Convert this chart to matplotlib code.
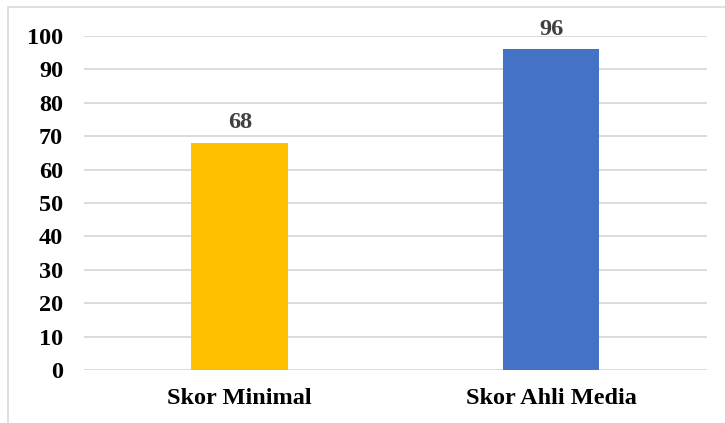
import matplotlib
matplotlib.use("Agg")
import matplotlib.pyplot as plt
from matplotlib.patches import Rectangle

categories = ["Skor Minimal", "Skor Ahli Media"]
scores = [68, 96]
bar_colors = ["#FFC000", "#4472C4"]
yticks = [0, 10, 20, 30, 40, 50, 60, 70, 80, 90, 100]

plt.rcParams["font.family"] = ["Liberation Serif", "DejaVu Serif"]
plt.rcParams["font.weight"] = "bold"

fig = plt.figure(figsize=(7.25, 4.23), dpi=100)
ax = fig.add_axes([0.1159, 0.1253, 0.8591, 0.7897])

# chart frame, running off the right and bottom edges
fig.patches.append(Rectangle((8 / 725, -0.05), 1.2, 1 - 7 / 423 + 0.05,
                             transform=fig.transFigure, fill=False,
                             edgecolor="#D9D9D9", linewidth=1.2))

x = range(len(categories))
bars = ax.bar(x, scores, width=0.31, color=bar_colors, zorder=3)

for b, v in zip(bars, scores):
    ax.annotate(str(v), (b.get_x() + b.get_width() / 2, v),
                xytext=(0, 7), textcoords="offset points",
                ha="center", va="bottom", fontsize=17.5,
                fontweight="bold", color="#404040")

ax.set_xlim(-0.5, 1.5)
ax.set_ylim(0, 100)
ax.set_yticks(yticks)
ax.set_xticks(list(x))
ax.set_xticklabels(categories, fontsize=17.5, fontweight="bold")
ax.tick_params(axis="y", labelsize=17.5, length=0, pad=15)
ax.tick_params(axis="x", length=0, pad=13)
for lab in ax.get_yticklabels():
    lab.set_fontweight("bold")

ax.yaxis.grid(True, color="#D9D9D9", linewidth=1.3, zorder=0)
ax.set_axisbelow(True)
for s in ax.spines.values():
    s.set_visible(False)

fig.savefig("out.png", dpi=100)
